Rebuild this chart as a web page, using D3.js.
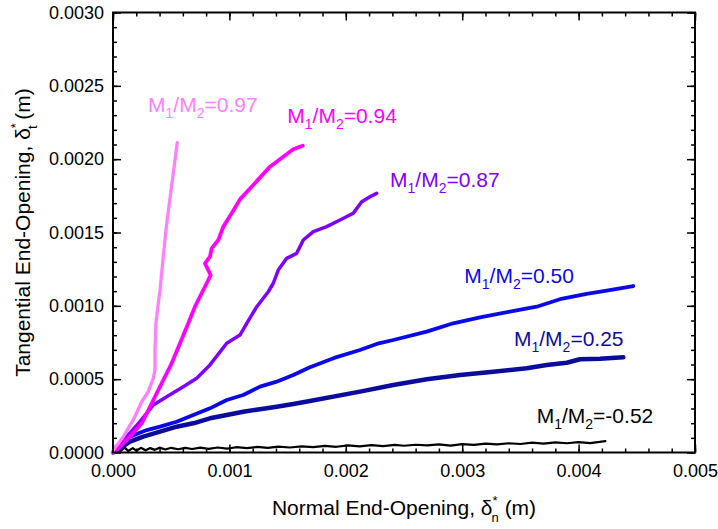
<!DOCTYPE html>
<html>
<head>
<meta charset="utf-8">
<script src="https://cdn.jsdelivr.net/npm/d3@7"></script>
<style>
  html, body { margin: 0; padding: 0; background: #fff; }
  svg { display: block; }
  text { font-family: Arial, "Liberation Sans", Helvetica, sans-serif; }
</style>
</head>
<body>
<svg id="chart" width="718" height="529"></svg>
<script>
// End-opening paths: [normal δn*, tangential δt*] in metres
const ratio097 = [
  [0,0],[0.0000026,0.000017],[0.0000885,0.000108],[0.000174,0.000222],[0.000247,0.000346],
  [0.000303,0.000415],[0.000346,0.000506],[0.000361,0.000563],[0.000361,0.000699],
  [0.000369,0.000881],[0.000389,0.001017],[0.000404,0.001108],[0.000432,0.001335],
  [0.000455,0.001517],[0.000484,0.001699],[0.000518,0.001904],[0.000552,0.002112]
];
const ratio094 = [
  [0,0],[0.0000318,0.000017],[0.000146,0.000108],[0.000247,0.000199],[0.000318,0.000312],
  [0.000404,0.000449],[0.000504,0.000608],[0.000576,0.000745],[0.000647,0.000881],
  [0.000704,0.000994],[0.000776,0.001108],[0.000805,0.001154],[0.000839,0.001210],
  [0.000790,0.001290],[0.000833,0.001335],[0.000848,0.001392],[0.000905,0.001449],
  [0.000948,0.001540],[0.001020,0.001631],[0.001091,0.001726],[0.001205,0.001824],
  [0.001349,0.001949],[0.001463,0.002017],[0.001549,0.002067],[0.001630,0.002092]
];
const ratio087 = [
  [0,0],[0.0000172,0.0000286],[0.000118,0.000108],[0.000232,0.000210],[0.000346,0.000324],
  [0.000461,0.000380],[0.000604,0.000449],[0.000719,0.000506],[0.000833,0.000597],
  [0.000977,0.000745],[0.001091,0.000801],[0.001149,0.000881],[0.001235,0.000994],
  [0.001334,0.001096],[0.001377,0.001154],[0.001420,0.001244],[0.001492,0.001324],
  [0.001578,0.001358],[0.001635,0.001449],[0.001721,0.001506],[0.001836,0.001540],
  [0.001950,0.001585],[0.002064,0.001631],[0.002137,0.001710],[0.002208,0.001744],
  [0.002265,0.001767]
];
const ratio050 = [
  [0,0],[0.0000172,0.000017],[0.000146,0.000108],[0.000290,0.000153],[0.000404,0.000176],
  [0.000547,0.000210],[0.000690,0.000256],[0.000833,0.000301],[0.000977,0.000358],
  [0.001119,0.000392],[0.001263,0.000449],[0.001406,0.000483],[0.001549,0.000528],
  [0.001692,0.000581],[0.001900,0.000645],[0.002122,0.000699],[0.002265,0.000740],
  [0.002408,0.000767],[0.002695,0.000824],[0.002923,0.000881],[0.003153,0.000922],
  [0.003410,0.000960],[0.003640,0.000994],[0.003840,0.001045],[0.004069,0.001081],
  [0.004241,0.001103],[0.004470,0.001135]
];
const ratio025 = [
  [0,0],[0.0000172,0.0000055],[0.000146,0.0000736],[0.000260,0.000108],[0.000404,0.000142],
  [0.000547,0.000176],[0.000690,0.000199],[0.000833,0.000233],[0.000977,0.000256],
  [0.001119,0.000278],[0.001263,0.000295],[0.001406,0.000312],[0.001549,0.000331],
  [0.001692,0.000351],[0.002122,0.000415],[0.002408,0.000460],[0.002695,0.000499],
  [0.002981,0.000528],[0.003267,0.000551],[0.003554,0.000574],[0.003726,0.000597],
  [0.003898,0.000612],[0.004012,0.000636],[0.004184,0.000640],[0.004384,0.000649]
];
const ratioNeg052 = [
  [0,0],[0.00003,0.00002],[0.00006,0.000005],[0.0001,0.000035],[0.00013,0.00001],
  [0.00017,0.00003],[0.0002,0.000012],[0.00024,0.000032],[0.00028,0.000015],[0.00032,0.00003],
  [0.00036,0.000018],[0.0004,0.000033],[0.00045,0.00002],[0.0005,0.000032],[0.00056,0.000022],
  [0.00062,0.000031],[0.00068,0.000024],[0.00075,0.000033],[0.00082,0.000025],[0.0009,0.000034],
  [0.00098,0.000027],[0.00106,0.000036],[0.00115,0.00003],[0.00124,0.000038],[0.00133,0.000031],
  [0.00142,0.00004],[0.00152,0.000034],[0.00162,0.000042],[0.00172,0.000037],[0.00182,0.000045],
  [0.00192,0.000039],[0.00202,0.000048],[0.00212,0.000042],[0.00222,0.00005],[0.00232,0.000044],
  [0.00242,0.000052],[0.0025,0.000046],[0.0026,0.000053],[0.0027,0.000048],[0.0028,0.000056],
  [0.0029,0.000047],[0.003,0.000057],[0.0031,0.000052],[0.0032,0.000061],[0.0033,0.000055],
  [0.0034,0.000063],[0.0035,0.000058],[0.0036,0.000067],[0.0037,0.000061],[0.0038,0.000069],
  [0.0039,0.000063],[0.004,0.000071],[0.0041,0.000064],[0.00418,0.000072],[0.00423,0.000078]
];

// Moment ratio labels: text after "M1/M2=" and the data point where the label starts
const ratioNames = ["0.97", "0.94", "0.87", "0.50", "0.25", "-0.52"];
const labelAnchors = [
  [0.000301, 0.002322], [0.001497, 0.002245], [0.00238, 0.001812],
  [0.003018, 0.001154], [0.003445, 0.000726], [0.00364, 0.000203]
];

const xTickValues = [0, 0.001, 0.002, 0.003, 0.004, 0.005];
const yTickValues = [0, 0.0005, 0.001, 0.0015, 0.002, 0.0025, 0.003];

// Draw order: black first, light pink last
const series = [
  { data: ratioNeg052, name: ratioNames[5], label: labelAnchors[5], color: "#000000", width: 2.2 },
  { data: ratio025,    name: ratioNames[4], label: labelAnchors[4], color: "#0c0c9c", width: 4.5 },
  { data: ratio050,    name: ratioNames[3], label: labelAnchors[3], color: "#0a0ae8", width: 3.8 },
  { data: ratio087,    name: ratioNames[2], label: labelAnchors[2], color: "#8000ff", width: 3.5 },
  { data: ratio094,    name: ratioNames[1], label: labelAnchors[1], color: "#ff00ff", width: 3.8 },
  { data: ratio097,    name: ratioNames[0], label: labelAnchors[0], color: "#ff80ff", width: 3.3 }
];

const svg = d3.select("#chart");
const plotLeft = 113, plotRight = 695, plotTop = 12.5, plotBottom = 452.5;

const x = d3.scaleLinear().domain([0, 0.005]).range([plotLeft, plotRight]);
const y = d3.scaleLinear().domain([0, 0.003]).range([plotBottom, plotTop]);

const xMinor = d3.range(0, 0.00501, 0.0002);
const yMinor = d3.range(0, 0.00301, 0.0001);

// Axes with inward ticks on all four sides
function styleAxis(g) {
  g.select(".domain").remove();
  g.selectAll(".tick line").attr("stroke", "#000").attr("stroke-width", 1.5);
  g.selectAll(".tick text").attr("fill", "#000").style("font-size", "18px");
}

// minor ticks
svg.append("g").attr("transform", `translate(0,${plotBottom})`)
  .call(d3.axisBottom(x).tickValues(xMinor).tickSize(-4).tickFormat(""))
  .call(styleAxis);
svg.append("g").attr("transform", `translate(0,${plotTop})`)
  .call(d3.axisTop(x).tickValues(xMinor).tickSize(-4).tickFormat(""))
  .call(styleAxis);
svg.append("g").attr("transform", `translate(${plotLeft},0)`)
  .call(d3.axisLeft(y).tickValues(yMinor).tickSize(-4).tickFormat(""))
  .call(styleAxis);
svg.append("g").attr("transform", `translate(${plotRight},0)`)
  .call(d3.axisRight(y).tickValues(yMinor).tickSize(-4).tickFormat(""))
  .call(styleAxis);

// major ticks
svg.append("g").attr("transform", `translate(0,${plotBottom})`)
  .call(d3.axisBottom(x).tickValues(xTickValues).tickSize(-8).tickPadding(12).tickFormat(d3.format(".3f")))
  .call(styleAxis);
svg.append("g").attr("transform", `translate(0,${plotTop})`)
  .call(d3.axisTop(x).tickValues(xTickValues).tickSize(-8).tickFormat(""))
  .call(styleAxis);
svg.append("g").attr("transform", `translate(${plotLeft},0)`)
  .call(d3.axisLeft(y).tickValues(yTickValues).tickSize(-8).tickPadding(9).tickFormat(d3.format(".4f")))
  .call(styleAxis);
svg.append("g").attr("transform", `translate(${plotRight},0)`)
  .call(d3.axisRight(y).tickValues(yTickValues).tickSize(-8).tickFormat(""))
  .call(styleAxis);

// Curves
const line = d3.line().x(d => x(d[0])).y(d => y(d[1]));
svg.append("g").selectAll("path").data(series).join("path")
  .attr("d", d => line(d.data))
  .attr("fill", "none")
  .attr("stroke", d => d.color)
  .attr("stroke-width", d => d.width)
  .attr("stroke-linejoin", "round")
  .attr("stroke-linecap", "round");

// Plot frame
svg.append("rect")
  .attr("x", plotLeft).attr("y", plotTop)
  .attr("width", plotRight - plotLeft).attr("height", plotBottom - plotTop)
  .attr("fill", "none").attr("stroke", "#000").attr("stroke-width", 2);

// Ratio labels  M1/M2=value
const labels = svg.append("g").selectAll("text").data(series).join("text")
  .attr("x", d => x(d.label[0]))
  .attr("y", d => y(d.label[1]))
  .attr("fill", d => d.color)
  .style("font-size", "21px");
labels.each(function(d) {
  const t = d3.select(this);
  t.append("tspan").text("M");
  t.append("tspan").attr("dy", 6).style("font-size", "14px").text("1");
  t.append("tspan").attr("dy", -6).text("/M");
  t.append("tspan").attr("dy", 6).style("font-size", "14px").text("2");
  t.append("tspan").attr("dy", -6).text("=" + d.name);
});

// Axis titles
const xTitle = svg.append("text")
  .attr("x", (plotLeft + plotRight) / 2).attr("y", 515)
  .attr("text-anchor", "middle")
  .style("font-size", "21px");
xTitle.append("tspan").text("Normal End-Opening, δ");
xTitle.append("tspan").attr("dy", -10).style("font-size", "13px").text("*");
xTitle.append("tspan").attr("dx", -6).attr("dy", 17).style("font-size", "13px").text("n");
xTitle.append("tspan").attr("dy", -7).text(" (m)");

const yTitle = svg.append("text")
  .attr("transform", `translate(30,${(plotTop + plotBottom) / 2}) rotate(-90)`)
  .attr("text-anchor", "middle")
  .style("font-size", "21px");
yTitle.append("tspan").text("Tangential End-Opening, δ");
yTitle.append("tspan").attr("dy", -10).style("font-size", "13px").text("*");
yTitle.append("tspan").attr("dx", -6).attr("dy", 17).style("font-size", "13px").text("t");
yTitle.append("tspan").attr("dy", -7).text(" (m)");
</script>
</body>
</html>
